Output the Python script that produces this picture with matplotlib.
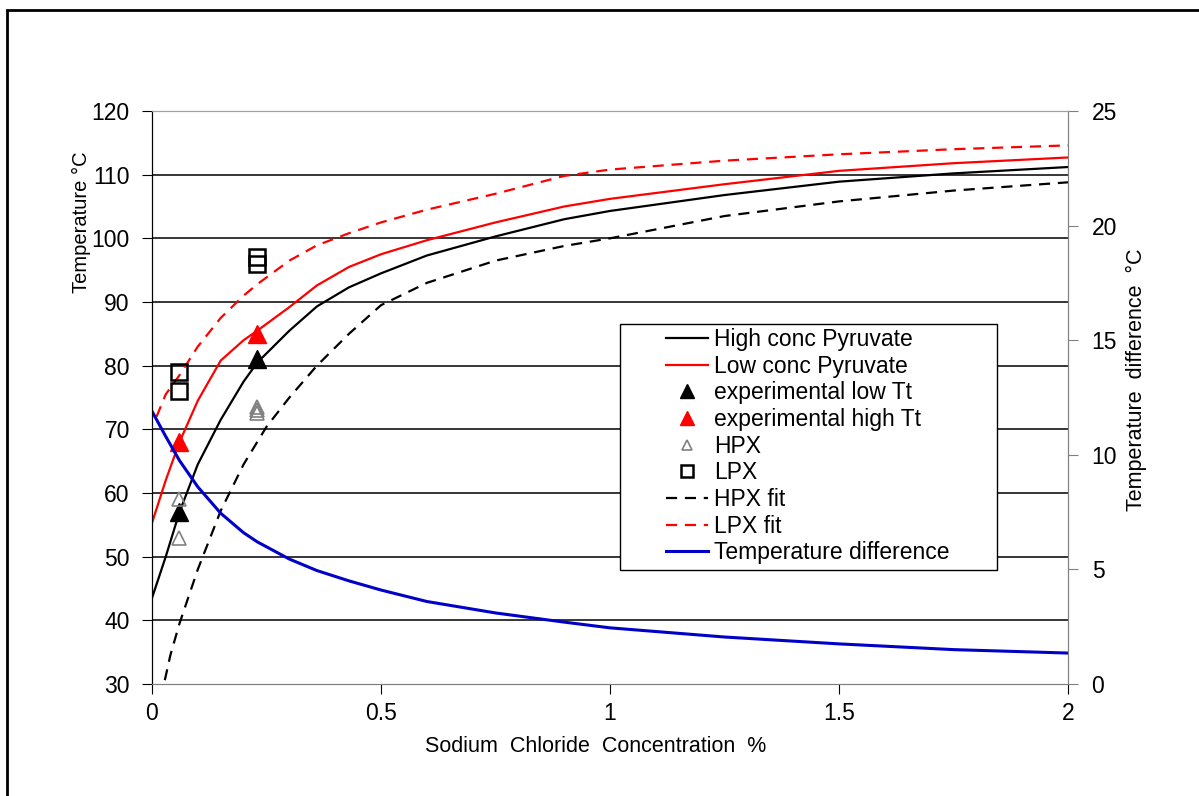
import matplotlib
matplotlib.use("Agg")
from matplotlib import pyplot as plt
from matplotlib.patches import Rectangle
import numpy as np

plt.rcParams['font.family'] = ['Liberation Sans', 'DejaVu Sans']

# concentration grid (%) for the model curves
conc = [0.0, 0.03, 0.06, 0.1, 0.15, 0.2, 0.23, 0.3, 0.36, 0.43, 0.5, 0.6, 0.75, 0.9, 1.0, 1.25, 1.5, 1.75, 2.0]
high_conc = [43.5, 50.0, 57.0, 64.5, 71.5, 77.5, 80.5, 85.5, 89.3, 92.3, 94.5, 97.3, 100.3, 103.0, 104.3, 106.8, 108.9, 110.2, 111.2]
low_conc = [55.3, 62.0, 68.0, 74.5, 80.8, 84.0, 85.5, 89.2, 92.6, 95.5, 97.5, 99.7, 102.5, 105.0, 106.2, 108.5, 110.6, 111.8, 112.7]
temp_diff = [11.9, 10.8, 9.75, 8.6, 7.45, 6.6, 6.2, 5.45, 4.95, 4.5, 4.1, 3.6, 3.1, 2.7, 2.45, 2.05, 1.75, 1.5, 1.35]

# fitted curves
lpx_conc = [0.01, 0.03, 0.06, 0.1, 0.15, 0.2, 0.23, 0.3, 0.36, 0.43, 0.5, 0.6, 0.75, 0.9, 1.0, 1.25, 1.5, 1.75, 2.0]
lpx_fit = [72.0, 75.5, 78.5, 83.0, 87.5, 91.0, 92.8, 96.5, 98.9, 100.8, 102.5, 104.5, 107.0, 109.8, 110.8, 112.2, 113.2, 114.0, 114.6]
hpx_conc = [0.028, 0.04, 0.06, 0.1, 0.15, 0.2, 0.25, 0.3, 0.36, 0.43, 0.5, 0.6, 0.75, 0.9, 1.0, 1.25, 1.5, 1.75, 2.0]
hpx_fit = [30.6, 34.5, 39.5, 48.0, 57.2, 64.5, 70.4, 75.0, 80.0, 85.0, 89.5, 93.0, 96.5, 98.8, 100.0, 103.5, 105.8, 107.5, 108.8]

# measured points
exp_x = [0.058, 0.23]
exp_low = [57, 81]
exp_high = [68, 85]
hpx_x = [0.058, 0.058, 0.23, 0.23, 0.23]
hpx_y = [53, 59, 72.5, 73, 73.5]
lpx_x = [0.058, 0.058, 0.23, 0.23]
lpx_y = [76, 79, 96, 97]

W, H = 1199, 796
fig = plt.figure(figsize=(W / 100, H / 100), dpi=100)
ax = fig.add_axes([152 / W, 1 - 684 / H, 916 / W, 573 / H])
ax2 = ax.twinx()

# outer chart border (cut off on the right and bottom)
fig.patches.append(Rectangle((7 / W, -0.2), 1.3, 1.2 - 10 / H, transform=fig.transFigure,
                             fill=False, edgecolor='black', linewidth=2))

ax.set_xlim(0, 2)
ax.set_ylim(30, 120)
ax2.set_ylim(0, 25)
ax.set_xticks([0, 0.5, 1, 1.5, 2])
ax.set_xticklabels(['0', '0.5', '1', '1.5', '2'])
ax.set_yticks(range(30, 121, 10))
ax2.set_yticks(range(0, 26, 5))

for t in range(40, 120, 10):
    ax.axhline(t, color='black', linewidth=1.1, zorder=0)

h1, = ax.plot(conc, high_conc, color='black', lw=1.6, label='High conc Pyruvate')
h2, = ax.plot(conc, low_conc, color='#ff0000', lw=1.6, label='Low conc Pyruvate')
h7, = ax.plot(hpx_conc, hpx_fit, color='black', lw=1.6, ls=(0, (5, 3.5)), label='HPX fit')
h8, = ax.plot(lpx_conc, lpx_fit, color='#ff0000', lw=1.6, ls=(0, (5, 3.5)), label='LPX fit')
h3, = ax.plot(exp_x, exp_low, ls='none', marker='^', ms=13, color='black', label='experimental low Tt')
h4, = ax.plot(exp_x, exp_high, ls='none', marker='^', ms=13, color='#ff0000', label='experimental high Tt')
h5, = ax.plot(hpx_x, hpx_y, ls='none', marker='^', ms=10, mfc='none', mec='#808080', mew=1.2, label='HPX')
h6, = ax.plot(lpx_x, lpx_y, ls='none', marker='s', ms=11, mfc='none', mec='black', mew=1.8, label='LPX')
h9, = ax2.plot(conc, temp_diff, color='#0000c8', lw=2.2, label='Temperature difference')

for a in (ax, ax2):
    a.spines['top'].set_color('#a0a0a0')
    a.spines['bottom'].set_color('#808080')
    a.spines['right'].set_color('#808080')
    a.spines['left'].set_color('black')
ax.tick_params(axis='y', direction='out', length=7, color='black', labelsize=16.5, pad=9)
ax.tick_params(axis='x', direction='out', length=7, color='black', labelsize=16.5, pad=6)
ax2.tick_params(axis='y', direction='out', length=7, color='#808080', labelsize=16.5, pad=10)

ax.set_xlabel('Sodium  Chloride  Concentration  %', fontsize=15.5, labelpad=8)
ax.xaxis.set_label_coords((596 - 152) / 916, -0.09)
ax.set_ylabel('Temperature °C', fontsize=14.5)
ax.yaxis.set_label_coords((91 - 152) / 916, (684 - 222) / 573)
ax2.set_ylabel('Temperature  difference  °C', fontsize=15.5)
ax2.yaxis.set_label_coords((1126 - 152) / 916, (684 - 380) / 573)

# legend box drawn separately: the original has wide side padding
box = Rectangle((620 / W, 1 - 570 / H), 377 / W, 246 / H, transform=fig.transFigure,
                facecolor='white', edgecolor='black', linewidth=1.0, zorder=5, clip_on=False)
ax2.add_patch(box)
handles = [h1, h2, h3, h4, h5, h6, h7, h8, h9]
leg = ax2.legend(handles=handles, loc='upper left', bbox_to_anchor=(666 / W, 1 - 328 / H),
                 bbox_transform=fig.transFigure, borderaxespad=0, borderpad=0,
                 fontsize=16.5, frameon=False, handlelength=1.85, handletextpad=0.25,
                 labelspacing=0.16, markerscale=0.75)
leg.set_zorder(6)

fig.savefig('out.png', dpi=100)
